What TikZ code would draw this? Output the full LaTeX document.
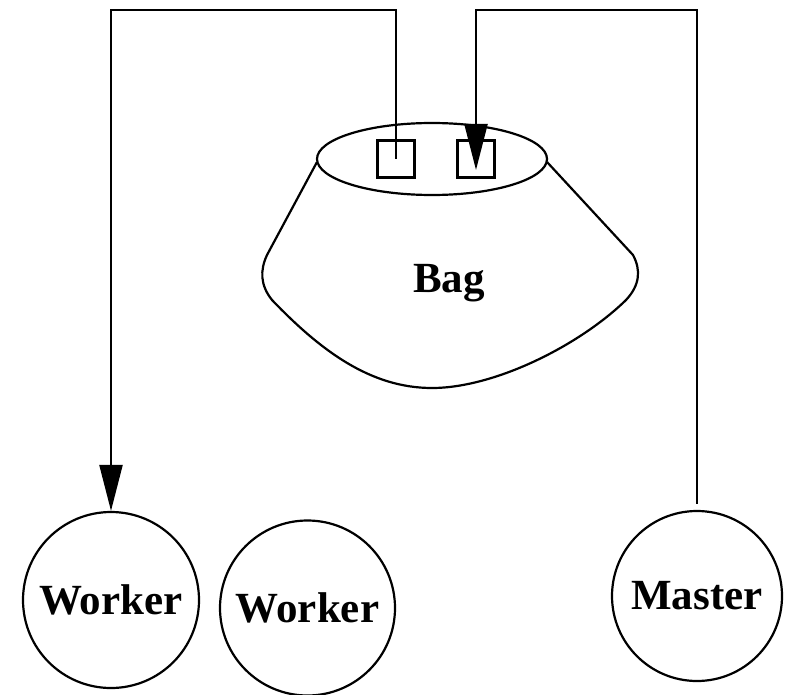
\documentclass[tikz,border=0pt]{standalone}
\usepackage{fontspec}
\setmainfont{Liberation Serif}
\usetikzlibrary{arrows.meta}
\begin{document}
\begin{tikzpicture}[x=1pt,y=-1pt,
  line width=2.2pt,
  lbl/.style={font=\fontsize{43}{48}\selectfont\bfseries},
  proc/.style={draw,circle,inner sep=0pt,line width=2.2pt,lbl},
  slot/.style={draw,rectangle,minimum size=37pt,inner sep=0pt,line width=2.2pt},
  arr/.style={-{Triangle[length=46pt,width=23pt]}}]
\useasboundingbox (0,0) rectangle (786,695);

% the bag: body outline and its open top
\draw[line join=round]
  (317,162) -- (267,255)
  .. controls (260,270) and (260,285) .. (272,300)
  .. controls (320,350) and (370,388) .. (432,388)
  .. controls (495,388) and (580,345) .. (626,300)
  .. controls (640,285) and (641,270) .. (633,255)
  -- (547,162);
\draw[fill=white] (432,159) ellipse [x radius=115, y radius=36];
\node[lbl] (bag) at (449,283) {Bag};

% the two slots in the mouth of the bag
\node[slot] (take) at (396,159) {};
\node[slot] (put)  at (476,159) {};

% processes
\node[proc,minimum size=176pt] (w1) at (111,600) {Worker};
\node[proc,minimum size=175pt] (w2) at (307.5,608) {Worker};
\node[proc,minimum size=170pt] (m)  at (697,596) {Master};

% routing corners along the top
\coordinate (tl) at (111,10);
\coordinate (tm) at (396,10);
\coordinate (tn) at (476,10);
\coordinate (tr) at (697,10);
\coordinate (putend) at (476,170);
\path (m.north) ++(0,-6) coordinate (mtop);

% worker takes from the bag
\draw[arr] (take.center) -- (tm) -- (tl) -- (w1.north);
% master puts into the bag
\draw[arr] (mtop) -- (tr) -- (tn) -- (putend);
\end{tikzpicture}
\end{document}
